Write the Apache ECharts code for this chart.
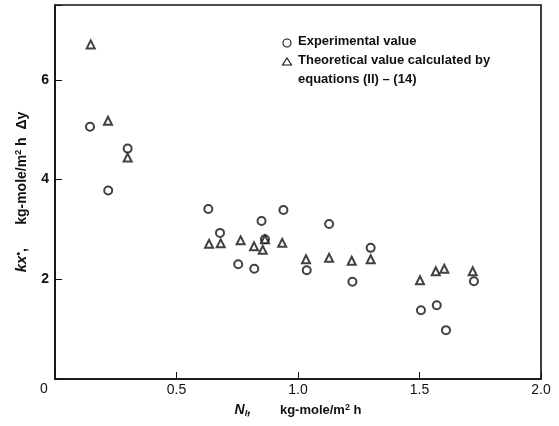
<!DOCTYPE html>
<html>
<head>
<meta charset="utf-8">
<script src="https://cdn.jsdelivr.net/npm/echarts@6/dist/echarts.min.js"></script>
<style>
  html, body { margin: 0; padding: 0; background: #fff; }
  #chart { width: 559px; height: 426px; }
</style>
</head>
<body>
<div id="chart"></div>
<script>
// experimental value (circles): [N1, kx*]
var expX = [0.144, 0.219, 0.299, 0.631, 0.679, 0.754, 0.82, 0.85, 0.864, 0.94, 1.036, 1.128, 1.224, 1.299, 1.506, 1.571, 1.609, 1.724];
var expY = [5.06, 3.78, 4.62, 3.41, 2.93, 2.30, 2.21, 3.17, 2.80, 3.39, 2.18, 3.11, 1.95, 2.63, 1.38, 1.48, 0.98, 1.96];
// theoretical value (triangles)
var theoX = [0.147, 0.218, 0.299, 0.634, 0.682, 0.764, 0.819, 0.855, 0.864, 0.935, 1.033, 1.128, 1.221, 1.299, 1.502, 1.567, 1.602, 1.719];
var theoY = [6.71, 5.18, 4.44, 2.71, 2.72, 2.78, 2.66, 2.59, 2.80, 2.73, 2.40, 2.43, 2.37, 2.40, 1.98, 2.16, 2.21, 2.16];
var xTicks = ['0', '0.5', '1.0', '1.5', '2.0'];
var yTicks = ['0', '2', '4', '6'];

function pairs(xs, ys) {
    return xs.map(function (x, i) { return [x, ys[i]]; });
}

var chart = echarts.init(document.getElementById('chart'));
var font = '"Liberation Sans", Arial, sans-serif';

chart.setOption({
    animation: false,
    grid: {
        left: 55, right: 18, top: 5, bottom: 47,
        show: true,
        borderColor: '#111',
        borderWidth: 1.6
    },
    xAxis: {
        type: 'value',
        min: 0, max: 2, interval: 0.5,
        name: '{n|N}{s|I}{n|,}        kg-mole/m{sup|2} h',
        nameLocation: 'middle',
        nameGap: 24,
        nameTextStyle: {
            fontFamily: font, fontSize: 13, fontWeight: 'bold', color: '#111',
            rich: {
                n: { fontFamily: font, fontSize: 14, fontWeight: 'bold', fontStyle: 'italic', color: '#111' },
                s: { fontFamily: font, fontSize: 9, fontStyle: 'italic', color: '#111', verticalAlign: 'bottom', padding: [6, 0, 0, 0] },
                sup: { fontFamily: font, fontSize: 9, fontWeight: 'bold', color: '#111', verticalAlign: 'top', padding: [0, 0, 6, 0] }
            }
        },
        axisLine: { lineStyle: { color: '#111', width: 1.6 } },
        axisTick: { inside: true, length: 7, lineStyle: { color: '#111' } },
        splitLine: { show: false },
        axisLabel: {
            fontFamily: font, fontSize: 14, color: '#111', margin: 4,
            formatter: function (v) { return v === 0 ? '' : xTicks[Math.round(v / 0.5)]; }
        }
    },
    yAxis: {
        type: 'value',
        min: 0, max: 7.5, interval: 2,
        name: '{k|kx}{d|\u2022}{t|,}      kg-mole/m{sup|2} h  \u0394y',
        nameLocation: 'middle',
        nameGap: 25,
        nameRotate: 90,
        nameTextStyle: {
            fontFamily: font, fontSize: 14, fontWeight: 'bold', color: '#111',
            rich: {
                k: { fontFamily: font, fontSize: 15, fontWeight: 'bold', fontStyle: 'italic', color: '#111' },
                d: { fontFamily: font, fontSize: 10, color: '#111', verticalAlign: 'top', padding: [0, 0, 6, 0] },
                t: { fontFamily: font, fontSize: 14, fontWeight: 'bold', color: '#111' },
                sup: { fontFamily: font, fontSize: 9, fontWeight: 'bold', color: '#111', verticalAlign: 'top', padding: [0, 0, 6, 0] }
            }
        },
        axisLine: { lineStyle: { color: '#111', width: 1.6 } },
        axisTick: { inside: true, length: 7, lineStyle: { color: '#111' } },
        splitLine: { show: false },
        axisLabel: {
            fontFamily: font, fontSize: 14, fontWeight: 'bold', color: '#111', margin: 6,
            formatter: function (v) { return v === 0 ? '' : yTicks[Math.round(v / 2)]; }
        }
    },
    series: [
        {
            name: 'Experimental value',
            type: 'scatter',
            symbol: 'emptyCircle',
            symbolSize: 8,
            itemStyle: { color: '#111', borderColor: '#111', borderWidth: 1 },
            data: pairs(expX, expY)
        },
        {
            name: 'Theoretical value calculated by equations (II) - (14)',
            type: 'scatter',
            symbol: 'emptyTriangle',
            symbolSize: 8,
            itemStyle: { color: '#111', borderColor: '#111', borderWidth: 1 },
            data: pairs(theoX, theoY)
        }
    ],
    graphic: [
        // legend
        { type: 'circle', shape: { cx: 287, cy: 43, r: 4 }, style: { fill: 'none', stroke: '#111', lineWidth: 1.1 } },
        { type: 'text', left: 298, top: 35, style: { text: 'Experimental value', font: 'bold 13px ' + font, fill: '#111' } },
        { type: 'polygon', shape: { points: [[287, 58], [291.5, 65], [282.5, 65]] }, style: { fill: 'none', stroke: '#111', lineWidth: 1.1 } },
        { type: 'text', left: 298, top: 54, style: { text: 'Theoretical value calculated by', font: 'bold 13px ' + font, fill: '#111' } },
        { type: 'text', left: 298, top: 73, style: { text: 'equations (II) \u2013 (14)', font: 'bold 13px ' + font, fill: '#111' } },
        // shared origin label
        { type: 'text', left: 40, top: 382, style: { text: '0', font: '14px ' + font, fill: '#111' } }
    ]
});
</script>
</body>
</html>
